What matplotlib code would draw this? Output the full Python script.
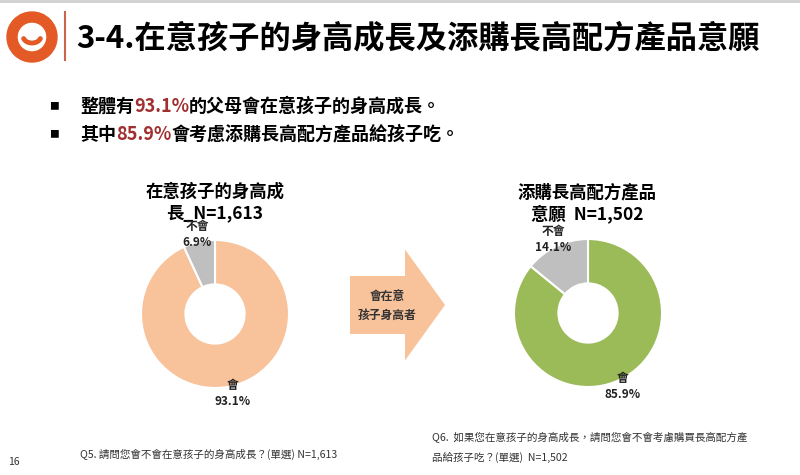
import numpy as np
import matplotlib
matplotlib.use("Agg")
import matplotlib.pyplot as plt
from matplotlib.patches import Wedge, FancyArrow

plt.rcParams['font.family'] = ['Noto Sans CJK TC', 'DejaVu Sans']

# data
care_labels = ['會', '不會']
care_values = [93.1, 6.9]
buy_labels = ['會', '不會']
buy_values = [85.9, 14.1]

peach = '#F8C29A'
green = '#9BBB59'
grey = '#BFBFBF'
red = '#A0302F'
orange = '#E35A26'

fig = plt.figure(figsize=(8, 4.75), dpi=100)

# overlay in pixel coordinates
ov = fig.add_axes([0, 0, 1, 1])
ov.set_xlim(0, 800)
ov.set_ylim(475, 0)
ov.axis('off')

# top border
ov.plot([0, 800], [1, 1], color='#D0D0D0', lw=2)

# logo
ov.add_patch(Wedge((32, 37), 25, 0, 360, width=10, color=orange))
t = np.linspace(0.12 * np.pi, 0.88 * np.pi, 40)
ov.plot(32 + 9 * np.cos(t), 36 + 7 * np.sin(t), color=orange, lw=3.5,
        solid_capstyle='round')
ov.plot([65, 65], [12, 60], color='#C8654A', lw=1.5)

ov.text(76, 38, '3-4.在意孩子的身高成長及添購長高配方產品意願', fontsize=22.5,
        fontweight='bold', va='center', ha='left', color='black')

# bullets with highlighted numbers
renderer = fig.canvas.get_renderer()


def rich_line(x, y, parts):
    for txt, col in parts:
        tt = ov.text(x, y, txt, fontsize=13, fontweight='bold', color=col,
                     va='center', ha='left')
        bb = tt.get_window_extent(renderer=renderer)
        x += bb.width


ov.text(54, 106, '■', fontsize=7, va='center', ha='center', color='black')
ov.text(54, 134, '■', fontsize=7, va='center', ha='center', color='black')
rich_line(80, 106, [('整體有', 'black'), (f'{care_values[0]}%', red),
                    ('的父母會在意孩子的身高成長。', 'black')])
rich_line(80, 134, [('其中', 'black'), (f'{buy_values[0]}%', red),
                    ('會考慮添購長高配方產品給孩子吃。', 'black')])


def donut(cx, cy, r, values, labels, color):
    ax = fig.add_axes([(cx - r) / 800, (475 - cy - r) / 475, 2 * r / 800, 2 * r / 475])
    texts = ax.pie(values, labels=[f'{l}\n{v}%' for l, v in zip(labels, values)],
                   colors=[color, grey], startangle=90, counterclock=False,
                   labeldistance=1.1, radius=1,
                   wedgeprops=dict(width=0.6, edgecolor='white', linewidth=1.5))[1]
    for tx in texts:
        tx.set_ha('center')
        tx.set_va('center')
        tx.set_fontsize(8.5)
        tx.set_fontweight('bold')
        tx.set_color('#222222')
        tx.set_linespacing(1.3)
    ax.set_xlim(-1, 1)
    ax.set_ylim(-1, 1)
    return ax


donut(215, 314, 74, care_values, care_labels, peach)
donut(588, 313, 74, buy_values, buy_labels, green)

# chart titles
ov.text(215, 192, '在意孩子的身高成', fontsize=12.5, fontweight='bold', ha='center', va='center')
ov.text(215, 213, '長_N=1,613', fontsize=12.5, fontweight='bold', ha='center', va='center')
ov.text(587, 192, '添購長高配方產品', fontsize=12.5, fontweight='bold', ha='center', va='center')
ov.text(587, 214, '意願  N=1,502', fontsize=12.5, fontweight='bold', ha='center', va='center')

# arrow
ov.add_patch(FancyArrow(350, 305, 95, 0, width=58, head_width=111, head_length=40,
                        length_includes_head=True, color=peach, lw=0))
ov.text(387, 306, '會在意\n孩子身高者', fontsize=8.5, fontweight='bold', ha='center',
        va='center', color='#333333', linespacing=1.6)

# footnotes
ov.text(80, 454, 'Q5. 請問您會不會在意孩子的身高成長？(單選) N=1,613', fontsize=7.6,
        ha='left', va='center', color='#333333')
ov.text(432, 438, 'Q6.  如果您在意孩子的身高成長，請問您會不會考慮購買長高配方產', fontsize=7.6,
        ha='left', va='center', color='#333333')
ov.text(432, 457, '品給孩子吃？(單選)  N=1,502', fontsize=7.6,
        ha='left', va='center', color='#333333')
ov.text(8, 462, '16', fontsize=7.5, ha='left', va='center', color='#333333')

fig.savefig('out.png', dpi=100)
